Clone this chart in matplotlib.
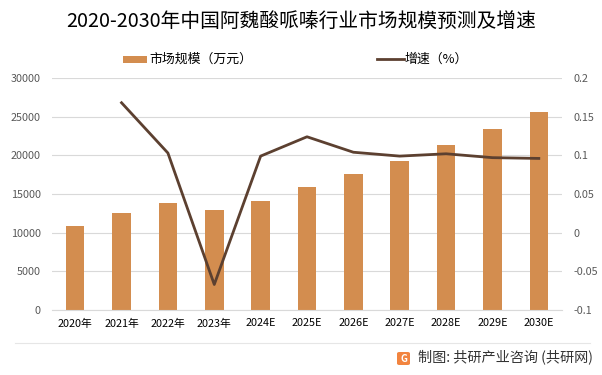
import matplotlib.pyplot as plt
from matplotlib.patches import Rectangle, FancyBboxPatch
from matplotlib.lines import Line2D

plt.rcParams['font.family'] = ['Noto Sans CJK SC', 'DejaVu Sans']
plt.rcParams['axes.unicode_minus'] = False

# 数据
years = ['2020年', '2021年', '2022年', '2023年', '2024E', '2025E',
         '2026E', '2027E', '2028E', '2029E', '2030E']
market = [10800, 12600, 13850, 12950, 14100, 15900, 17600, 19250, 21350, 23400, 25600]
growth = [None, 0.168, 0.103, -0.067, 0.099, 0.124, 0.104, 0.099, 0.102, 0.097, 0.096]

BAR_COLOR = '#D38D4F'
LINE_COLOR = '#5C4030'
GRID_COLOR = '#D9D9D9'
TICK_COLOR = '#595959'

fig = plt.figure(figsize=(6.02, 3.75), dpi=100)
ax = fig.add_axes([52 / 602, 65 / 375, 510 / 602, 232 / 375])

x = list(range(len(years)))
ax.bar(x, market, width=0.4, color=BAR_COLOR, zorder=2)
ax.set_ylim(0, 30000)
ax.set_yticks(range(0, 30001, 5000))
ax.set_xlim(-0.5, len(years) - 0.5)
ax.set_xticks(x)
ax.set_xticklabels(years, fontsize=7.8, color='black')
ax.grid(axis='y', color=GRID_COLOR, linewidth=0.8, zorder=0)
ax.tick_params(axis='y', labelsize=7.8, colors=TICK_COLOR, length=0, pad=8)
ax.tick_params(axis='x', length=0, pad=6)
for s in ['top', 'right', 'left']:
    ax.spines[s].set_visible(False)
ax.spines['bottom'].set_color(GRID_COLOR)

ax2 = ax.twinx()
gx = [i for i, g in zip(x, growth) if g is not None]
gy = [g for g in growth if g is not None]
ax2.plot(gx, gy, color=LINE_COLOR, linewidth=2, zorder=3)
ax2.set_ylim(-0.1, 0.2)
ax2.set_yticks([-0.1, -0.05, 0, 0.05, 0.1, 0.15, 0.2])
ax2.set_yticklabels(['-0.1', '-0.05', '0', '0.05', '0.1', '0.15', '0.2'])
ax2.tick_params(axis='y', labelsize=7.8, colors=TICK_COLOR, length=0, pad=8)
for s in ax2.spines.values():
    s.set_visible(False)

# 标题
fig.text(0.5, 1 - 22 / 375, '2020-2030年中国阿魏酸哌嗪行业市场规模预测及增速',
         ha='center', va='center', fontsize=14.2, color='black')

# 图例
fig.patches.append(Rectangle((123 / 602, 1 - 63 / 375), 24 / 602, 7 / 375,
                             transform=fig.transFigure, facecolor=BAR_COLOR,
                             edgecolor='none'))
fig.text(149 / 602, 1 - 59 / 375, '市场规模（万元）', ha='left', va='center', fontsize=9.3)
fig.lines.append(Line2D([377 / 602, 404 / 602], [1 - 59 / 375, 1 - 59 / 375],
                        transform=fig.transFigure, color=LINE_COLOR, linewidth=2))
fig.text(405 / 602, 1 - 59 / 375, '增速（%）', ha='left', va='center', fontsize=9.3)

# 底部分隔线与来源
fig.lines.append(Line2D([15 / 602, 590 / 602], [1 - 343 / 375, 1 - 343 / 375],
                        transform=fig.transFigure, color='#E6E6E6', linewidth=0.8))
fig.patches.append(FancyBboxPatch((397 / 602, 1 - 365 / 375), 13 / 602, 13 / 375,
                                  boxstyle='round,pad=0,rounding_size=0.004',
                                  transform=fig.transFigure, facecolor='#F2843F',
                                  edgecolor='none'))
fig.text(403.5 / 602, 1 - 358.5 / 375, 'G', ha='center', va='center', fontsize=7,
         fontweight='bold', color='white')
fig.text(418 / 602, 1 - 357 / 375, '制图: 共研产业咨询 (共研网)', ha='left',
         va='center', fontsize=10.2, color='#333333')

plt.savefig('out.png', dpi=100, facecolor='white')
